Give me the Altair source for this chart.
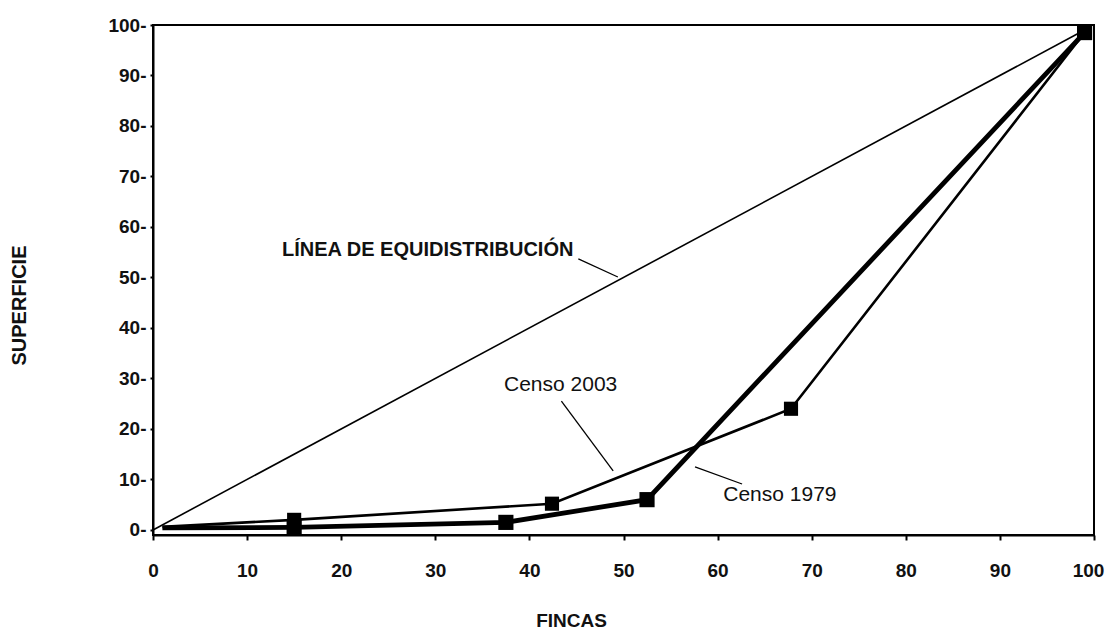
import altair as alt
import pandas as pd

# ---- data ----
equi_x = [0, 99]
equi_y = [0, 99]

c1979_x = [1, 15, 37.5, 52.5, 99]
c1979_y = [0.4, 0.5, 1.5, 6.0, 98.5]
c1979_marker = [False, True, True, True, True]

c2003_x = [1, 15, 42.4, 67.8, 99]
c2003_y = [0.6, 2.0, 5.2, 24.0, 98.5]
c2003_marker = [False, True, True, True, True]

x_ticks = [0, 10, 20, 30, 40, 50, 60, 70, 80, 90, 100]
y_ticks = [0, 10, 20, 30, 40, 50, 60, 70, 80, 90, 100]

label_text = ["LÍNEA DE EQUIDISTRIBUCIÓN", "Censo 2003", "Censo 1979"]
label_x = [13.7, 37.3, 60.6]
label_y = [55.4, 28.7, 6.9]
label_bold = [True, False, False]

leader_x = [45.2, 43.4, 57.6]
leader_y = [53.7, 25.5, 12.5]
leader_x2 = [49.4, 48.9, 62.6]
leader_y2 = [50.1, 11.7, 9.1]

FONT = "Liberation Sans"

equi = pd.DataFrame({"x": equi_x, "y": equi_y})
d1979 = pd.DataFrame({"x": c1979_x, "y": c1979_y, "m": c1979_marker})
d2003 = pd.DataFrame({"x": c2003_x, "y": c2003_y, "m": c2003_marker})
labels = pd.DataFrame({"t": label_text, "x": label_x, "y": label_y, "b": label_bold})
leaders = pd.DataFrame({"x": leader_x, "y": leader_y, "x2": leader_x2, "y2": leader_y2})

xscale = alt.Scale(domain=[0, 100], nice=False, zero=False)
yscale = alt.Scale(domain=[-1, 100], nice=False, zero=False)

xaxis = alt.Axis(
    values=x_ticks, title="FINCAS", grid=False, domainColor="black", domainWidth=2,
    tickColor="black", tickSize=5, tickWidth=2, labelPadding=21,
    labelOffset={"condition": {"test": "datum.value == 100", "value": -6}, "value": 0},
    labelFont=FONT, labelFontSize=19, labelFontWeight="bold", labelColor="#111",
    titleFont=FONT, titleFontSize=19, titleFontWeight="bold", titleColor="#111",
    titleX=418, titleY=85, titleBaseline="middle", titleAlign="center",
    labelFlush=False,
)
yaxis = alt.Axis(
    values=y_ticks, title="SUPERFICIE", grid=False, domainColor="black", domainWidth=2,
    tickColor="black", tickSize=3, tickWidth=2, labelPadding=4,
    labelExpr="datum.label + '-'",
    labelFont=FONT, labelFontSize=19, labelFontWeight="bold", labelColor="#111",
    titleFont=FONT, titleFontSize=20, titleFontWeight="bold", titleColor="#111",
    titleX=-134, titleY=280, titleAngle=270, titleBaseline="middle", titleAlign="center",
    labelFlush=False,
)

X = lambda: alt.X("x:Q", scale=xscale, axis=xaxis)
Y = lambda: alt.Y("y:Q", scale=yscale, axis=yaxis)

equi_line = alt.Chart(equi).mark_line(color="black", strokeWidth=1.6).encode(x=X(), y=Y())

line2003 = alt.Chart(d2003).mark_line(color="black", strokeWidth=2.6).encode(x=X(), y=Y())
pts2003 = alt.Chart(d2003).transform_filter("datum.m").mark_point(
    shape="square", filled=True, color="black", size=200, opacity=1
).encode(x=X(), y=Y())

line1979 = alt.Chart(d1979).mark_line(color="black", strokeWidth=4.8).encode(x=X(), y=Y())
pts1979 = alt.Chart(d1979).transform_filter("datum.m").mark_point(
    shape="square", filled=True, color="black", size=230, opacity=1
).encode(x=X(), y=Y())

lead = alt.Chart(leaders).mark_rule(color="black", strokeWidth=1.3).encode(
    x=X(), y=Y(), x2="x2:Q", y2="y2:Q"
)

txt_bold = alt.Chart(labels).transform_filter("datum.b").mark_text(
    align="left", baseline="middle", font=FONT, fontSize=20, fontWeight="bold", color="#111"
).encode(x=X(), y=Y(), text="t:N")
txt_reg = alt.Chart(labels).transform_filter("!datum.b").mark_text(
    align="left", baseline="middle", font=FONT, fontSize=21, color="#111"
).encode(x=X(), y=Y(), text="t:N")

chart = alt.layer(
    equi_line, line2003, line1979, pts2003, pts1979, lead, txt_bold, txt_reg
).properties(
    width=941, height=510,
    autosize=alt.AutoSizeParams(type="none"),
    padding={"left": 145, "top": 17, "right": 11, "bottom": 96},
    background="white",
).configure_view(stroke="black", strokeWidth=2)

chart.save("out.html", embed_options={"renderer": "svg", "actions": False})
